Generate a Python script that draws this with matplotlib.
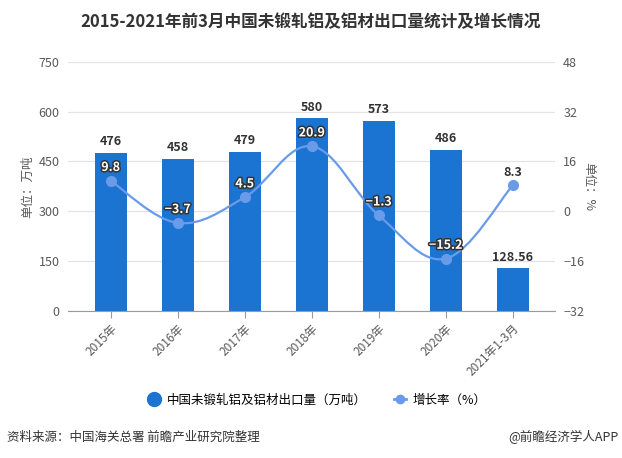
import matplotlib.pyplot as plt
import matplotlib.patheffects as pe
from matplotlib.path import Path
from matplotlib.patches import PathPatch
from matplotlib.lines import Line2D

plt.rcParams['font.family'] = ['Noto Sans CJK SC', 'DejaVu Sans']

categories = ['2015年', '2016年', '2017年', '2018年', '2019年', '2020年', '2021年1-3月']
volume = [476, 458, 479, 580, 573, 486, 128.56]
volume_labels = ['476', '458', '479', '580', '573', '486', '128.56']
growth = [9.8, -3.7, 4.5, 20.9, -1.3, -15.2, 8.3]
left_ticks = [0, 150, 300, 450, 600, 750]
right_ticks = [-32, -16, 0, 16, 32, 48]

bar_color = '#1b74d1'
line_color = '#6a9be8'
grey = '#595959'

fig = plt.figure(figsize=(6.22, 4.58), dpi=100)
ax = fig.add_axes([0.109, 0.321, 0.783, 0.544])
ax2 = ax.twinx()

x = list(range(len(categories)))
ax.bar(x, volume, width=0.48, color=bar_color, zorder=2)
ax.set_ylim(0, 750)
ax.set_yticks(left_ticks)
ax.set_xlim(-0.64, 6.63)
ax.set_xticks(x)
ax.set_xticklabels(categories, rotation=45, ha='right', rotation_mode='anchor', fontsize=8.5, color=grey)
ax.grid(axis='y', color='#e3e3e3', linewidth=0.9, zorder=0)
ax.set_axisbelow(True)
for s in ['top', 'right', 'left']:
    ax.spines[s].set_visible(False)
ax2.spines[:].set_visible(False)
ax.spines['bottom'].set_color('#9a9a9a')
ax.tick_params(axis='x', length=5, color='#9a9a9a', pad=3)
ax.tick_params(axis='y', length=0, labelsize=9, colors=grey, pad=6)
ax.set_ylabel('单位：万吨', fontsize=9, color=grey, labelpad=3)

for xi, v, lab in zip(x, volume, volume_labels):
    ax.text(xi, v + 14, lab, ha='center', va='bottom', fontsize=9, fontweight='bold', color='#333333')

# smooth line through the growth points (cubic bezier)
ax2.set_ylim(-32, 48)
ax2.set_yticks(right_ticks)
ax2.tick_params(axis='y', length=0, labelsize=9, colors=grey, pad=6)
ax2.set_ylabel('单位：%', fontsize=9, color=grey, rotation=270, labelpad=8)

k = 0.18
verts = [(x[0], growth[0])]
codes = [Path.MOVETO]
n = len(x)
for i in range(n - 1):
    p0 = (x[i - 1], growth[i - 1]) if i > 0 else (x[i], growth[i])
    p1 = (x[i], growth[i])
    p2 = (x[i + 1], growth[i + 1])
    p3 = (x[i + 2], growth[i + 2]) if i + 2 < n else p2
    c1 = (p1[0] + k * (p2[0] - p0[0]), p1[1] + k * (p2[1] - p0[1]))
    c2 = (p2[0] - k * (p3[0] - p1[0]), p2[1] - k * (p3[1] - p1[1]))
    verts += [c1, c2, p2]
    codes += [Path.CURVE4] * 3
ax2.add_patch(PathPatch(Path(verts, codes), fill=False, edgecolor=line_color, linewidth=1.6, zorder=3))
ax2.plot(x, growth, linestyle='none', marker='o', markersize=7, color=line_color, zorder=4)

for i, (xi, g) in enumerate(zip(x, growth)):
    txt = f'{g:.1f}'.replace('-', '−')
    if i == n - 1:
        ax2.text(xi, g + 2.2, txt, ha='center', va='bottom', fontsize=9, fontweight='bold', color='#333333', zorder=5)
    else:
        ax2.text(xi, g + 2.2, txt, ha='center', va='bottom', fontsize=9, fontweight='bold', color='white',
                 path_effects=[pe.withStroke(linewidth=2.2, foreground='#333333')], zorder=5)

fig.text(0.5, 0.952, '2015-2021年前3月中国未锻轧铝及铝材出口量统计及增长情况', ha='center', va='center',
         fontsize=12, fontweight='bold', color='#333333')

handles = [Line2D([], [], linestyle='none', marker='o', markersize=10, color=bar_color),
           Line2D([], [], color=line_color, linewidth=2, marker='o', markersize=6)]
fig.legend(handles, ['中国未锻轧铝及铝材出口量（万吨）', '增长率（%）'], loc='center', bbox_to_anchor=(0.51, 0.127),
           ncol=2, frameon=False, fontsize=9, handlelength=1.0, columnspacing=2.2, handletextpad=0.5)

fig.text(0.011, 0.045, '资料来源：中国海关总署 前瞻产业研究院整理', fontsize=9, color='#333333', va='center')
fig.text(0.995, 0.045, '@前瞻经济学人APP', fontsize=9, color='#333333', va='center', ha='right')

fig.savefig('out.png', dpi=100)
